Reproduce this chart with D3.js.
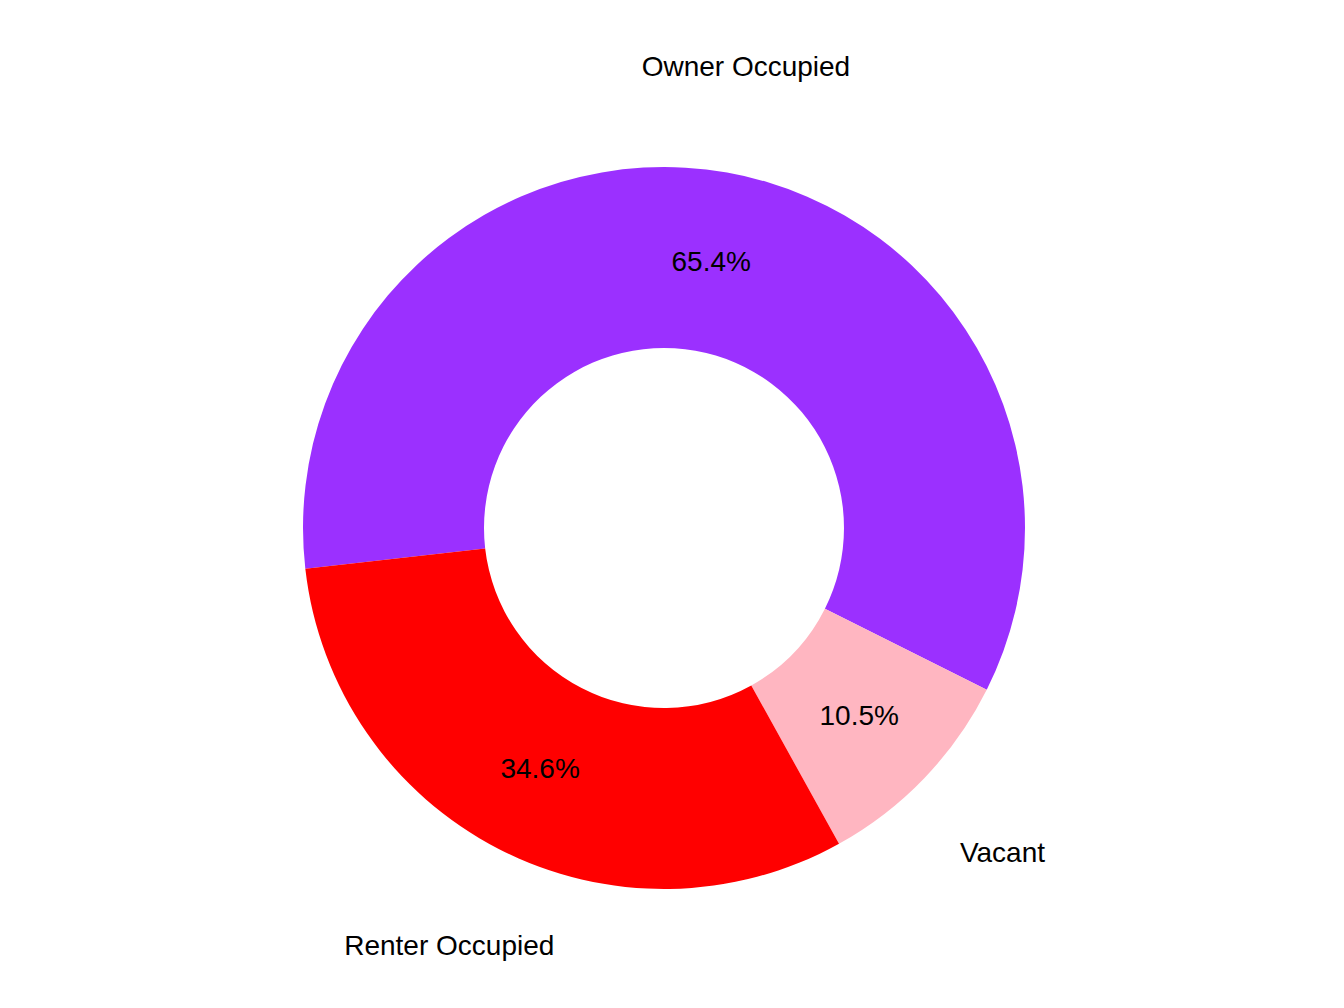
<!DOCTYPE html>
<html><head><meta charset="utf-8">
<script src="https://cdn.jsdelivr.net/npm/d3@7"></script>
<style>body{margin:0;background:#fff}text{font-family:"Liberation Sans",Arial,sans-serif}</style>
</head><body><div id="chart"></div>
<script>
const categories = ["Owner Occupied", "Vacant", "Renter Occupied"];
const shares = [59.2, 9.55, 31.25];
const pctLabels = ["65.4%", "10.5%", "34.6%"];
const colors = ["#9B30FF", "#FFB6C1", "#FF0000"];

const W = 1344, H = 1008, cx = 664, cy = 528;
const outerR = 361, innerR = 180, labelR = 469;

const svg = d3.select("#chart").append("svg").attr("width", W).attr("height", H);
const g = svg.append("g").attr("transform", `translate(${cx},${cy})`);

const start = -96.5 * Math.PI / 180;
const pie = d3.pie().sort(null).startAngle(start).endAngle(start + 2 * Math.PI);
const arcs = pie(shares);
const arc = d3.arc().innerRadius(innerR).outerRadius(outerR);
const midArc = d3.arc().innerRadius((innerR + outerR) / 2).outerRadius((innerR + outerR) / 2);
const outArc = d3.arc().innerRadius(labelR).outerRadius(labelR);

g.selectAll("path").data(arcs).enter().append("path")
  .attr("d", arc).attr("fill", (d, i) => colors[i]);

g.selectAll(".pct").data(arcs).enter().append("text")
  .attr("transform", d => `translate(${midArc.centroid(d)})`)
  .attr("text-anchor", "middle").attr("dy", "0.35em")
  .style("font-size", "28px").text((d, i) => pctLabels[i]);

g.selectAll(".cat").data(arcs).enter().append("text")
  .attr("transform", d => `translate(${outArc.centroid(d)})`)
  .attr("text-anchor", "middle").attr("dy", "0.35em")
  .style("font-size", "28px").text((d, i) => categories[i]);
</script></body></html>
